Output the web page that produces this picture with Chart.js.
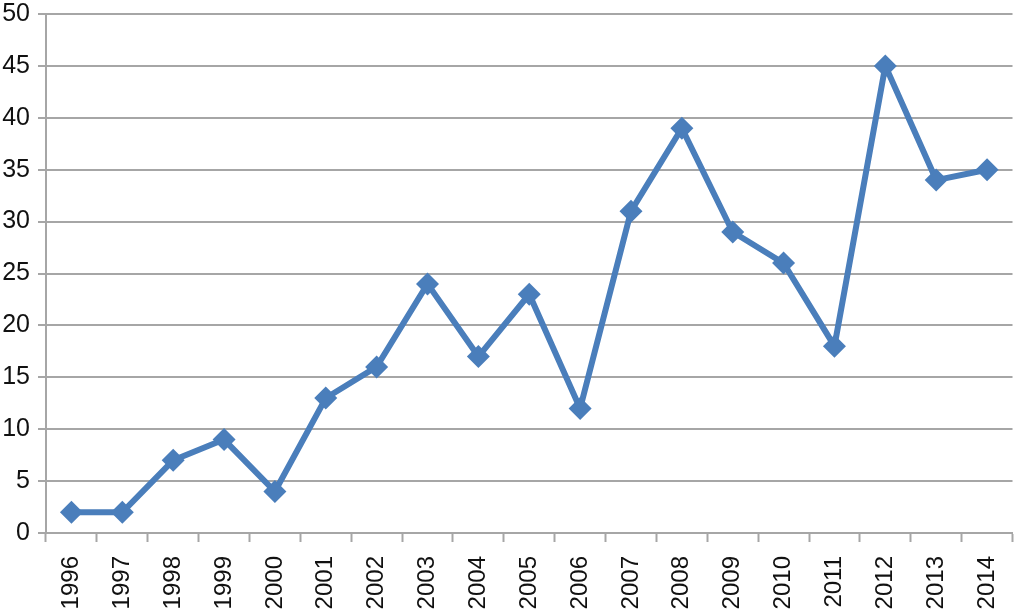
<!DOCTYPE html>
<html>
<head>
<meta charset="utf-8">
<script src="https://cdn.jsdelivr.net/npm/chart.js@4/dist/chart.umd.min.js"></script>
<style>
  html, body { margin: 0; padding: 0; background: #fff; }
  #wrap { width: 1024px; height: 611px; }
</style>
</head>
<body>
<div id="wrap"><canvas id="chart" width="1024" height="611"></canvas></div>
<script>
// Data
const years = ['1996', '1997', '1998', '1999', '2000', '2001', '2002', '2003', '2004', '2005',
               '2006', '2007', '2008', '2009', '2010', '2011', '2012', '2013', '2014'];
const counts = [2, 2, 7, 9, 4, 13, 16, 24, 17, 23, 12, 31, 39, 29, 26, 18, 45, 34, 35];
const yTicks = [0, 5, 10, 15, 20, 25, 30, 35, 40, 45, 50];

const lineBlue = '#4a7ebb';
const gridGray = '#a6a6a6';

const ctx = document.getElementById('chart');
new Chart(ctx, {
    type: 'line',
    data: {
        labels: years,
        datasets: [{
            data: counts,
            borderColor: lineBlue,
            backgroundColor: lineBlue,
            borderWidth: 6,
            pointStyle: 'rectRot',
            pointRadius: 11.5,
            pointHoverRadius: 11.5,
            pointBorderWidth: 0,
            tension: 0
        }]
    },
    options: {
        responsive: false,
        animation: false,
        layout: { padding: { top: 14, right: 3, left: 0, bottom: 0 } },
        plugins: {
            legend: { display: false },
            tooltip: { enabled: false }
        },
        scales: {
            x: {
                offset: true,
                border: { color: gridGray, width: 2 },
                grid: {
                    offset: true,
                    drawOnChartArea: false,
                    drawTicks: true,
                    tickLength: 9,
                    tickWidth: 2,
                    color: gridGray
                },
                ticks: {
                    minRotation: 90,
                    maxRotation: 90,
                    autoSkip: false,
                    padding: 14,
                    color: '#111',
                    font: { family: '"Liberation Sans", Arial, sans-serif', size: 24 }
                },
                afterFit: function(scale) {
                    scale.height = 78;
                    scale.paddingLeft = 0;
                    scale.paddingRight = 0;
                }
            },
            y: {
                min: 0,
                max: 50,
                afterBuildTicks: function(scale) {
                    scale.ticks = yTicks.map(v => ({ value: v }));
                },
                border: { color: gridGray, width: 2 },
                grid: {
                    color: gridGray,
                    lineWidth: 2,
                    tickLength: 8
                },
                ticks: {
                    padding: 8,
                    color: '#111',
                    font: { family: '"Liberation Sans", Arial, sans-serif', size: 25 }
                },
                afterFit: function(scale) {
                    scale.width = 46;
                    scale.paddingTop = 0;
                    scale.paddingBottom = 0;
                }
            }
        }
    }
});
</script>
</body>
</html>
